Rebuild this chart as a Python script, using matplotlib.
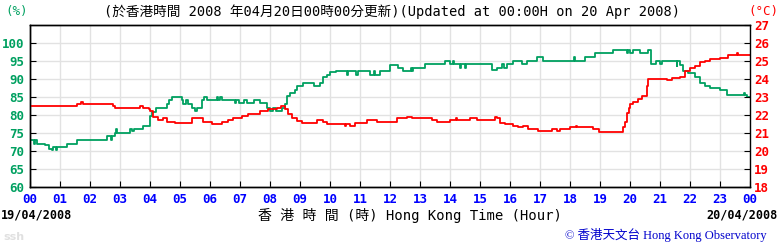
import matplotlib
matplotlib.use('Agg')
import matplotlib.pyplot as plt
import numpy as np

# relative humidity (%), step changes: hour of change, new value
rh_hour = [0.00, 0.13, 0.16, 0.22, 0.50, 0.62, 0.72, 0.78, 0.85, 0.90, 1.22, 1.55,
           2.55, 2.70, 2.72, 2.83, 2.88, 2.90, 3.33, 3.40, 3.45, 3.78, 4.00, 4.08,
           4.20, 4.55, 4.62, 4.72, 5.05, 5.10, 5.20, 5.25, 5.40, 5.50, 5.55, 5.72,
           5.80, 5.90, 6.22, 6.28, 6.32, 6.40, 6.83, 6.88, 6.95, 7.12, 7.22, 7.47,
           7.67, 7.90, 8.00, 8.10, 8.20, 8.40, 8.50, 8.58, 8.67, 8.83, 8.90, 9.10,
           9.45, 9.67, 9.78, 9.90, 10.00, 10.20, 10.55, 10.60, 10.88, 10.92, 11.33,
           11.45, 11.50, 11.67, 12.00, 12.25, 12.44, 12.70, 12.74, 12.78, 13.17,
           13.83, 14.00, 14.10, 14.12, 14.33, 14.36, 14.50, 14.53, 15.39, 15.55,
           15.72, 15.80, 15.90, 16.10, 16.39, 16.55, 16.89, 17.11, 18.12, 18.15,
           18.50, 18.83, 19.44, 19.90, 19.93, 20.00, 20.10, 20.33, 20.60, 20.70,
           20.85, 21.00, 21.05, 21.55, 21.58, 21.67, 21.78, 21.94, 22.17, 22.33,
           22.50, 22.67, 23.00, 23.22, 23.80, 23.83, 23.89, 24.00]
rh_val = [73, 72, 73, 72, 71.6, 70.6, 70.2, 71, 70.2, 71, 72, 73,
          74, 73, 74, 75, 76, 75, 76, 75.5, 76, 77, 79.6, 80.8,
          82, 83, 84, 85, 84, 83, 84, 83, 82, 81, 82, 84,
          85, 84, 85, 84, 85, 84, 83.3, 84, 83.3, 84, 83.3, 84,
          83.3, 82, 81.1, 82, 81.1, 82, 83, 85.3, 86, 86.9, 88, 88.9,
          88, 88.9, 90.4, 91.1, 91.9, 92.2, 91, 92.2, 91, 92.2, 91,
          92.2, 91, 92.2, 93.8, 93, 92.2, 92.9, 92.2, 92.9, 94,
          95, 94, 95, 94, 92.9, 94, 92.9, 94, 92.4, 92.9,
          94, 92.9, 94, 95, 94, 95, 96.1, 95, 96.1, 95,
          96.1, 97, 98, 97, 98, 97, 98, 97, 98, 94,
          95, 94, 95, 93.5, 95, 93.8, 92.2, 91.5, 90.4, 88.9,
          88, 87.3, 86.9, 85.5, 86, 85.5, 85, 85]

# temperature (degC), step changes
t_hour = [0.00, 1.55, 1.70, 1.75, 2.78, 2.83, 3.67, 3.78, 3.95, 4.00, 4.11, 4.28,
          4.44, 4.55, 4.83, 5.39, 5.78, 6.05, 6.39, 6.61, 6.78, 7.05, 7.28, 7.67,
          7.94, 8.22, 8.36, 8.50, 8.61, 8.72, 8.89, 9.06, 9.56, 9.78, 9.89, 10.50,
          10.53, 10.67, 10.83, 11.22, 11.56, 12.22, 12.55, 12.72, 13.39, 13.55,
          14.00, 14.20, 14.23, 14.67, 14.89, 15.50, 15.55, 15.67, 15.83, 16.11,
          16.28, 16.44, 16.61, 16.94, 17.39, 17.55, 17.67, 18.00, 18.20, 18.22,
          18.78, 18.95, 19.77, 19.84, 19.89, 19.95, 20.00, 20.11, 20.28, 20.39,
          20.55, 20.61, 21.22, 21.39, 21.67, 21.83, 22.00, 22.17, 22.33, 22.50,
          22.67, 23.00, 23.28, 23.55, 23.60, 24.00]
t_val = [22.5, 22.57, 22.7, 22.57, 22.5, 22.4, 22.5, 22.4, 22.3, 22.2, 21.9, 21.7,
         21.8, 21.6, 21.55, 21.8, 21.6, 21.5, 21.6, 21.7, 21.8, 21.93, 22.07, 22.2,
         22.3, 22.4, 22.5, 22.3, 22.07, 21.8, 21.67, 21.57, 21.7, 21.6, 21.5, 21.4,
         21.5, 21.4, 21.57, 21.7, 21.6, 21.8, 21.9, 21.8, 21.7, 21.6,
         21.7, 21.8, 21.7, 21.8, 21.7, 21.85, 21.8, 21.57, 21.5, 21.4,
         21.3, 21.4, 21.2, 21.1, 21.2, 21.1, 21.2, 21.3, 21.4, 21.3,
         21.2, 21.05, 21.3, 21.6, 22.1, 22.4, 22.6, 22.7, 22.85, 23.05,
         23.6, 24.0, 23.93, 24.02, 24.07, 24.4, 24.57, 24.7, 24.9, 25.0,
         25.07, 25.13, 25.3, 25.4, 25.3, 25.3]

hour_labels = ['00', '01', '02', '03', '04', '05', '06', '07', '08', '09', '10', '11',
               '12', '13', '14', '15', '16', '17', '18', '19', '20', '21', '22', '23', '00']
rh_ticks = [60, 65, 70, 75, 80, 85, 90, 95, 100]
t_ticks = [18, 19, 20, 21, 22, 23, 24, 25, 26, 27]

GREEN = '#00a060'
RED = '#ff0000'
BLUE = '#0000ff'
MONO = ['DejaVu Sans Mono', 'Noto Sans CJK TC']

fig = plt.figure(figsize=(7.8, 2.44), dpi=100)
ax = fig.add_axes([30/780, 57/244, 720/780, 162.5/244])

ax.set_xlim(0, 24)
ax.set_ylim(60, 105)
ax.set_xticks(range(25))
ax.set_xticklabels(hour_labels, color=BLUE, fontweight='bold', family=MONO, fontsize=9)
ax.set_yticks(rh_ticks)
ax.set_yticklabels([str(v) for v in rh_ticks], color=GREEN, fontweight='bold', family=MONO, fontsize=9)
ax.grid(True, color='#e2e2e2', lw=1.0)
ax.set_axisbelow(True)
ax.tick_params(direction='in', length=4, width=0.8, pad=4)
for s in ax.spines.values():
    s.set_linewidth(1.0)
ax.spines['right'].set_visible(False)

ax2 = ax.twinx()
ax2.set_ylim(18, 27)
ax2.set_yticks(t_ticks)
ax2.set_yticklabels([str(v) for v in t_ticks], color=RED, fontweight='bold', family=MONO, fontsize=9)
ax2.tick_params(direction='in', length=4, width=0.8, pad=3)
for s in ax2.spines.values():
    s.set_linewidth(1.0)

ax.plot(rh_hour, rh_val, drawstyle='steps-post', color=GREEN, lw=1.3)
ax2.plot(t_hour, t_val, drawstyle='steps-post', color=RED, lw=1.3)

fig.text(392/780, 1 - 12/244,
         '(於香港時間 2008 年04月20日00時00分更新)(Updated at 00:00H on 20 Apr 2008)',
         ha='center', va='center', family=MONO, fontsize=9.8, color='black')
fig.text(5/780, 1 - 12/244, '(%)', ha='left', va='center', family=MONO, fontsize=9, color=GREEN)
fig.text(778/780, 1 - 12/244, '(°C)', ha='right', va='center', family=MONO, fontsize=9, color=RED)
fig.text(1/780, 1 - 215/244, '19/04/2008', ha='left', va='center', family=MONO,
         fontsize=8.5, fontweight='bold', color='black')
fig.text(778/780, 1 - 215/244, '20/04/2008', ha='right', va='center', family=MONO,
         fontsize=8.5, fontweight='bold', color='black')
fig.text(410/780, 1 - 215/244, '香 港 時 間 (時) Hong Kong Time (Hour)', ha='center', va='center',
         family=MONO, fontsize=10, color='black')
fig.text(3/780, 1 - 237/244, 'ssh', ha='left', va='center', family='DejaVu Sans',
         fontsize=8, fontweight='bold', color='#e0e0e0')
fig.text(767/780, 1 - 235/244, '© 香港天文台 Hong Kong Observatory', ha='right', va='center',
         family=['Liberation Serif', 'Noto Sans CJK TC'], fontsize=9, color='#0000cc')

fig.savefig('out.png', dpi=100)
